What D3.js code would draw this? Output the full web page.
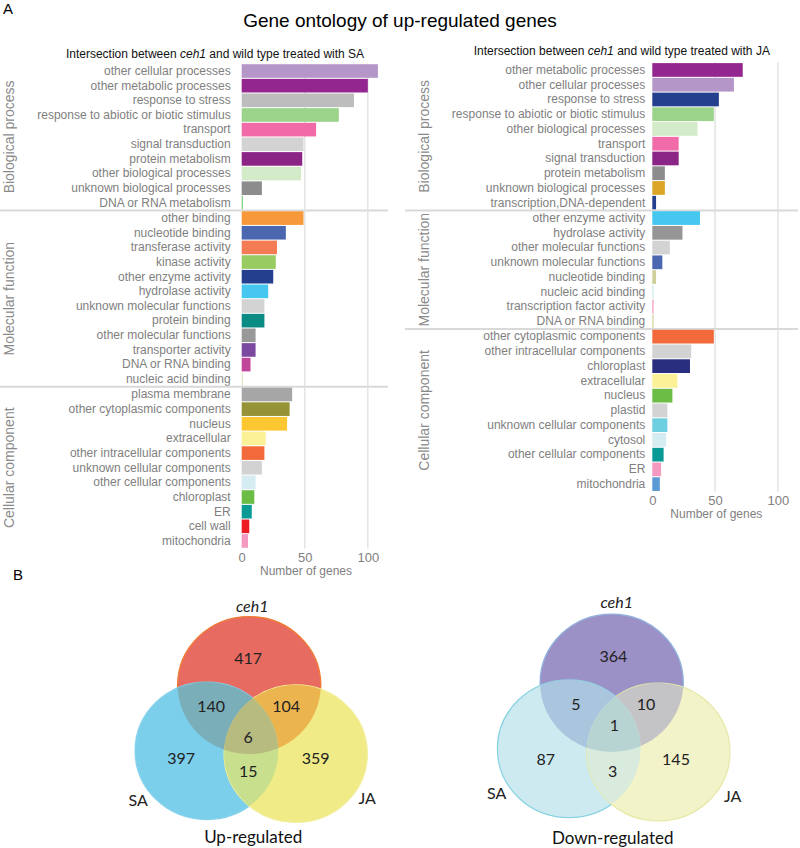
<!DOCTYPE html>
<html>
<head>
<meta charset="utf-8">
<script src="https://cdn.jsdelivr.net/npm/d3@7"></script>
<style>
  html, body { margin: 0; padding: 0; background: #fff; }
  svg { display: block; }
</style>
</head>
<body>
<svg id="chart" width="800" height="848"></svg>
<script>
// ---------------- DATA ----------------
// SA panel
const saBioCats = ["other cellular processes","other metabolic processes","response to stress","response to abiotic or biotic stimulus","transport","signal transduction","protein metabolism","other biological processes","unknown biological processes","DNA or RNA metabolism"];
const saBioVals = [108,100,89,77,59,49,48,47,16,1];
const saBioCols = ["#b497c8","#93278f","#bdbdbd","#9bd38b","#f06ba8","#d3d3d3","#8b2585","#d4ebc9","#8c8c8c","#7fd07f"];

const saMolCats = ["other binding","nucleotide binding","transferase activity","kinase activity","other enzyme activity","hydrolase activity","unknown molecular functions","protein binding","other molecular functions","transporter activity","DNA or RNA binding","nucleic acid binding"];
const saMolVals = [49,35,28,27,25,21,18,18,11,11,7,1];
const saMolCols = ["#f7993a","#4a67b0","#f47c55","#98cc63","#243f8e","#45c7f0","#d3d3d3","#0a8b84","#999999","#7b4aa0","#c1479b","#e6e6c8"];

const saCellCats = ["plasma membrane","other cytoplasmic components","nucleus","extracellular","other intracellular components","unknown cellular components","other cellular components","chloroplast","ER","cell wall","mitochondria"];
const saCellVals = [40,38,36,19,18,16,11,10,8,6,5];
const saCellCols = ["#a6a6a6","#969236","#fdc731","#fbf197","#f26a3b","#d2d2d2","#d5ecf3","#6bbd45","#0c9a96","#ed1c24","#f49ac1"];

// JA panel
const jaBioCats = ["other metabolic processes","other cellular processes","response to stress","response to abiotic or biotic stimulus","other biological processes","transport","signal transduction","protein metabolism","unknown biological processes","transcription,DNA-dependent"];
const jaBioVals = [72,65,53,49,36,21,21,10,10,3];
const jaBioCols = ["#93278f","#b497c8","#243f8e","#9bd38b","#d4ebc9","#f06ba8","#8b2585","#8c8c8c","#dba526","#243f8e"];

const jaMolCats = ["other enzyme activity","hydrolase activity","other molecular functions","unknown molecular functions","nucleotide binding","nucleic acid binding","transcription factor activity","DNA or RNA binding"];
const jaMolVals = [38,24,14,8,3,1,1,1];
const jaMolCols = ["#45c7f0","#969696","#d3d3d3","#4a67b0","#cfcf9b","#cfeaea","#f49ac1","#d4d49a"];

const jaCellCats = ["other cytoplasmic components","other intracellular components","chloroplast","extracellular","nucleus","plastid","unknown cellular components","cytosol","other cellular components","ER","mitochondria"];
const jaCellVals = [49,31,30,20,16,12,12,11,9,7,6];
const jaCellCols = ["#f26a3b","#d3d3d3","#2a2e7e","#fbf197","#6bbd45","#d3d3d3","#6ecfe0","#d5ecf3","#0a9a96","#f49ac1","#5b9bd5"];

const facetNames = ["Biological process","Molecular function","Cellular component"];
const xTicks = [0,50,100];
const xDomainMax = 116;

// Venn data: regions [A only, B only, C only, AB, AC, BC, ABC]; A=ceh1, B=SA, C=JA
const vennSets = ["ceh1","SA","JA"];
const vennUpCounts = [417,397,359,140,104,15,6];
const vennDownCounts = [364,87,145,5,10,3,1];
const vennTitles = ["Up-regulated","Down-regulated"];

// ---------------- DRAW ----------------
const svg = d3.select("#chart");
const SANS = "'Liberation Sans', Arial, sans-serif";
const GREY = "#808080";

svg.append("text").attr("x", 3).attr("y", 14).attr("font-family", SANS).attr("font-size", 15).attr("fill", "#000").text("A");
svg.append("text").attr("x", 13).attr("y", 580).attr("font-family", SANS).attr("font-size", 15).attr("fill", "#000").text("B");
svg.append("text").attr("x", 400).attr("y", 27).attr("text-anchor", "middle").attr("font-family", SANS)
  .attr("font-size", 19).attr("fill", "#000").text("Gene ontology of up-regulated genes");

function drawGO(cfg) {
  const g = svg.append("g");
  const x = d3.scaleLinear().domain([0, xDomainMax]).range([cfg.x0, cfg.x1]);
  const e = 0.52;
  // subtitle
  const st = g.append("text").attr("x", cfg.subX).attr("y", cfg.subY).attr("text-anchor", "middle")
    .attr("font-family", SANS).attr("font-size", 12).attr("fill", "#111");
  st.append("tspan").text("Intersection between ");
  st.append("tspan").attr("font-style", "italic").text("ceh1");
  st.append("tspan").text(" and wild type treated with " + cfg.treat);

  let y0 = cfg.top;
  cfg.facets.forEach((f, i) => {
    const n = f.cats.length;
    const h = (n - 1 + 2 * e) * cfg.step;
    const y = d3.scaleBand().domain(f.cats).range([y0, y0 + h]).paddingInner(0.07).paddingOuter(0.055);
    // gridlines
    g.append("g").selectAll("line").data(xTicks.filter(t => t > 0)).join("line")
      .attr("x1", d => x(d)).attr("x2", d => x(d)).attr("y1", y0).attr("y2", y0 + h)
      .attr("stroke", "#e2e2e2").attr("stroke-width", 1.4);
    // bars
    g.append("g").selectAll("rect").data(f.cats.map((c, j) => ({c, v: f.vals[j], col: f.cols[j]}))).join("rect")
      .attr("x", x(0)).attr("y", d => y(d.c)).attr("height", y.bandwidth())
      .attr("width", d => x(d.v) - x(0)).attr("fill", d => d.col);
    // category labels
    const ax = g.append("g").attr("transform", `translate(${x(0)},0)`)
      .call(d3.axisLeft(y).tickSize(0).tickPadding(cfg.labelPad));
    ax.select(".domain").remove();
    ax.selectAll("text").attr("font-family", SANS).attr("font-size", 12).attr("fill", GREY);
    // strip label
    g.append("text").attr("transform", `translate(${cfg.stripX},${y0 + h / 2}) rotate(-90)`)
      .attr("text-anchor", "middle").attr("font-family", SANS).attr("font-size", 14).attr("fill", "#8a8a8a")
      .text(facetNames[i]);
    // separator
    if (i < cfg.facets.length - 1) {
      g.append("line").attr("x1", cfg.sepX0).attr("x2", cfg.x1).attr("y1", y0 + h).attr("y2", y0 + h)
        .attr("stroke", "#d9d9d9").attr("stroke-width", 2);
    }
    y0 += h;
  });
  // x axis
  const xa = g.append("g").attr("transform", `translate(0,${y0})`)
    .call(d3.axisBottom(x).tickValues(xTicks).tickSize(0).tickPadding(4));
  xa.select(".domain").remove();
  xa.selectAll("text").attr("font-family", SANS).attr("font-size", 13).attr("fill", GREY);
  g.append("text").attr("x", x(51)).attr("y", y0 + 26).attr("text-anchor", "middle")
    .attr("font-family", SANS).attr("font-size", 12).attr("fill", GREY).text("Number of genes");
}

drawGO({
  treat: "SA", x0: 241.7, x1: 388, top: 63.4, step: 14.65, labelPad: 11, stripX: 13.5, sepX0: 0,
  subX: 215, subY: 57.5,
  facets: [
    {cats: saBioCats, vals: saBioVals, cols: saBioCols},
    {cats: saMolCats, vals: saMolVals, cols: saMolCols},
    {cats: saCellCats, vals: saCellVals, cols: saCellCols}
  ]
});
drawGO({
  treat: "JA", x0: 652.3, x1: 798, top: 62.3, step: 14.75, labelPad: 7, stripX: 429, sepX0: 405,
  subX: 621.8, subY: 55,
  facets: [
    {cats: jaBioCats, vals: jaBioVals, cols: jaBioCols},
    {cats: jaMolCats, vals: jaMolVals, cols: jaMolCols},
    {cats: jaCellCats, vals: jaCellVals, cols: jaCellCols}
  ]
});

// ---------------- VENN ----------------
const VFONT = "Lato, 'Open Sans', sans-serif";
const defs = svg.append("defs");
function drawVenn(cfg, id) {
  const g = svg.append("g");
  const c = cfg.circles; // [A, B, C] each {cx, cy}
  c.forEach((p, k) => {
    defs.append("clipPath").attr("id", `${id}c${k}`).append("ellipse")
      .attr("cx", p.cx).attr("cy", p.cy).attr("rx", cfg.rx).attr("ry", cfg.ry);
  });
  const ell = (sel, p) => sel.append("ellipse").attr("cx", p.cx).attr("cy", p.cy).attr("rx", cfg.rx).attr("ry", cfg.ry);
  // single sets with outlines (inner arcs get covered by later fills)
  c.forEach((p, k) => ell(g, p).attr("fill", cfg.fills[k]).attr("stroke", cfg.strokes[k]).attr("stroke-width", 1.3));
  // pairwise
  ell(g.append("g").attr("clip-path", `url(#${id}c0)`), c[1]).attr("fill", cfg.fills[3]);
  ell(g.append("g").attr("clip-path", `url(#${id}c0)`), c[2]).attr("fill", cfg.fills[4]);
  ell(g.append("g").attr("clip-path", `url(#${id}c1)`), c[2]).attr("fill", cfg.fills[5]);
  // triple
  ell(g.append("g").attr("clip-path", `url(#${id}c0)`).append("g").attr("clip-path", `url(#${id}c1)`), c[2]).attr("fill", cfg.fills[6]);
  // counts
  cfg.counts.forEach((v, k) => {
    const o = cfg.numPos[k];
    g.append("text").attr("x", c[0].cx + o[0]).attr("y", c[0].cy + o[1]).attr("dy", "0.36em")
      .attr("text-anchor", "middle").attr("font-family", VFONT).attr("font-size", 16).attr("fill", "#222").text(v);
  });
  // set labels
  vennSets.forEach((s, k) => {
    const o = cfg.setPos[k];
    g.append("text").attr("x", c[0].cx + o[0]).attr("y", c[0].cy + o[1]).attr("dy", "0.36em")
      .attr("text-anchor", "middle").attr("font-family", VFONT).attr("font-size", 16).attr("fill", "#222")
      .attr("font-style", k === 0 ? "italic" : "normal").text(s);
  });
  g.append("text").attr("x", c[0].cx + cfg.titlePos[0]).attr("y", c[0].cy + cfg.titlePos[1]).attr("dy", "0.36em")
    .attr("text-anchor", "middle").attr("font-family", VFONT).attr("font-size", 17).attr("fill", "#111").text(cfg.title);
}

drawVenn({
  circles: [{cx: 249.2, cy: 685.3}, {cx: 206.7, cy: 750.8}, {cx: 295.7, cy: 753.7}],
  rx: 71.6, ry: 68.7,
  fills: ["#e86b62", "#7bcfea", "#f0eb87", "#7aaeb9", "#ecb44f", "#c8df8d", "#b8bb80"],
  strokes: ["#ef7a34", "#86d2ec", "#f2ee9a"],
  counts: vennUpCounts,
  numPos: [[-1,-27],[-68,73],[66.5,73],[-38,21.4],[37,21.4],[-1,85.7],[-1,52]],
  setPos: [[3,-78.6],[-111,114.7],[118,113]],
  titlePos: [4, 151.4],
  title: vennTitles[0]
}, "vu");

drawVenn({
  circles: [{cx: 611.7, cy: 683}, {cx: 569, cy: 748.8}, {cx: 658.3, cy: 752}],
  rx: 71.6, ry: 68.9,
  fills: ["#9c91c7", "#cdeaf1", "#f2f3c9", "#aac6de", "#c4c4c6", "#d9ebdd", "#b7d4d3"],
  strokes: ["#8fb0dc", "#8ad3e2", "#e6e9a8"],
  counts: vennDownCounts,
  numPos: [[1.6,-27],[-66,76],[64.3,76],[-35.7,21.3],[34.3,21.3],[1,88.7],[2.6,42]],
  setPos: [[5,-80.7],[-115,110],[121,113.7]],
  titlePos: [1, 155.3],
  title: vennTitles[1]
}, "vd");
</script>
</body>
</html>
